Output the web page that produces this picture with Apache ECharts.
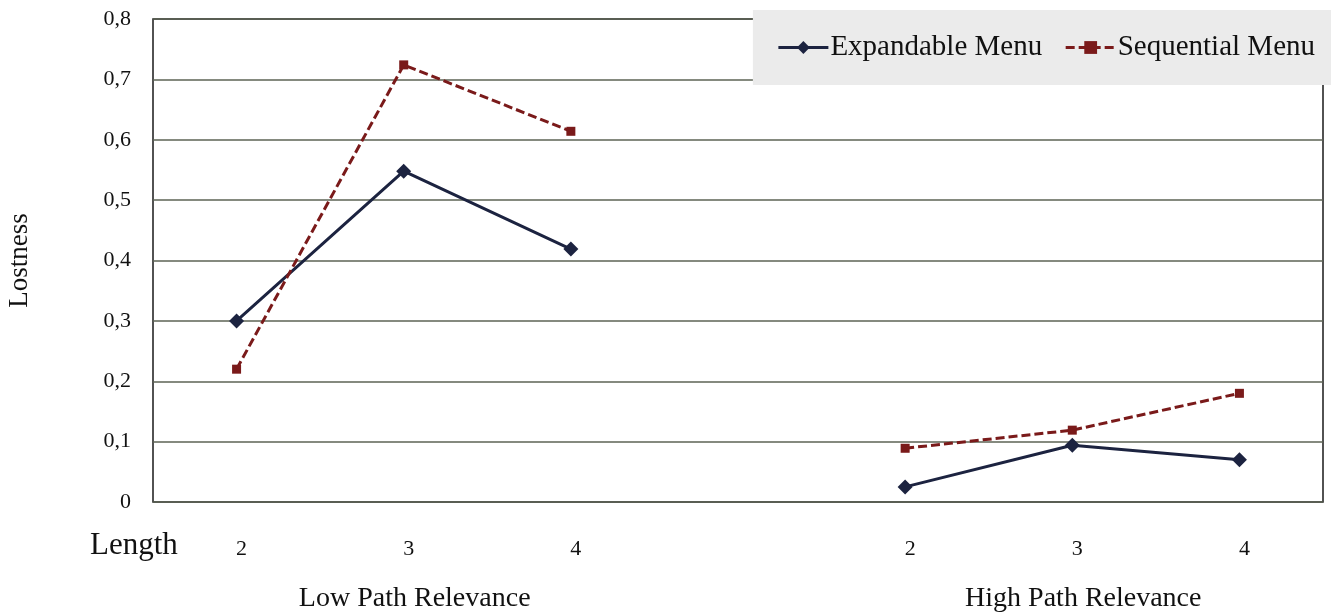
<!DOCTYPE html>
<html><head><meta charset="utf-8">
<script src="https://cdn.jsdelivr.net/npm/echarts@6/dist/echarts.min.js"></script>
<style>html,body{margin:0;padding:0;background:#fff}#c{width:1331px;height:613px}</style>
</head><body><div id="c"></div>
<script>
var categories = ['2','3','4','','2','3','4'];
var groupLabels = ['','Low Path Relevance','','','','High Path Relevance',''];
var expandable = [0.30, 0.548, 0.419, null, 0.025, 0.094, 0.07];
var sequential = [0.22, 0.724, 0.614, null, 0.089, 0.119, 0.18];
var yTicks = {min:0, max:0.8, interval:0.1};
var F = 'Liberation Serif';
var chart = echarts.init(document.getElementById('c'));
chart.setOption({
  backgroundColor:'#fff',
  animation:false,
  grid:{left:153, right:8, top:19, bottom:111, show:true, outerBoundsMode:'none', containLabel:false,
    borderColor:'#1a1a1a', borderWidth:1.5, backgroundColor:'transparent'},
  xAxis:[{type:'category', data:categories, boundaryGap:true,
    axisLine:{show:false}, axisTick:{show:false}, splitLine:{show:false},
    axisLabel:{margin:36, fontFamily:F, fontSize:22, color:'#111', interval:0, padding:[0,0,0,10]}},
   {type:'category', data:groupLabels, position:'bottom', boundaryGap:true, offset:0,
    axisLine:{show:false}, axisTick:{show:false}, splitLine:{show:false},
    axisLabel:{margin:83, fontFamily:F, fontSize:28, color:'#111', interval:0, padding:[0,0,0,22]}}],
  yAxis:{type:'value', min:yTicks.min, max:yTicks.max, interval:yTicks.interval,
    name:'Lostness', nameLocation:'middle', nameGap:120, nameRotate:90,
    nameTextStyle:{fontFamily:F, fontSize:27, color:'#111'},
    axisLine:{show:false}, axisTick:{show:false},
    splitLine:{lineStyle:{color:'#5d6354', width:1.5}},
    axisLabel:{margin:22, fontFamily:F, fontSize:22, color:'#111',
      formatter:function(v){return String(Math.round(v*10)/10).replace('.',',');}}},
  legend:{right:0, top:10, backgroundColor:'#ebebeb', padding:[23,16,23,24],
    itemWidth:50, itemHeight:16, itemGap:22,
    lineStyle:{width:3},
    textStyle:{fontFamily:F, fontSize:29, color:'#111', padding:[0,0,0,-3]},
    data:['Expandable Menu','Sequential Menu']},
  graphic:[{type:'text', left:90, top:530, style:{text:'Length', fontFamily:F, fontSize:31, fill:'#111'}}],
  series:[
    {name:'Expandable Menu', type:'line', data:expandable, connectNulls:false,
     symbol:'diamond', symbolSize:15, lineStyle:{color:'#1c2340', width:3},
     itemStyle:{color:'#1c2340'}},
    {name:'Sequential Menu', type:'line', data:sequential, connectNulls:false,
     symbol:'rect', symbolSize:9, lineStyle:{color:'#7a1a1a', width:3, type:[9,4]},
     itemStyle:{color:'#7a1a1a'}}
  ]
});
</script></body></html>
